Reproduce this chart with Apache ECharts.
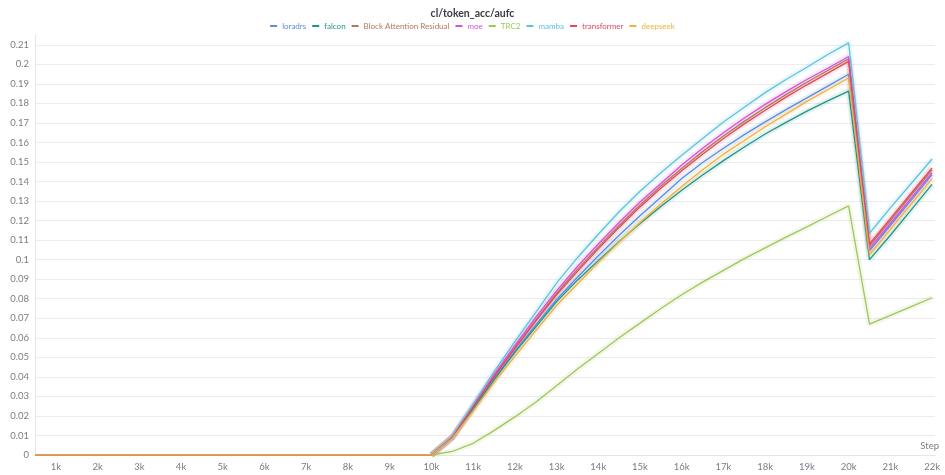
<!DOCTYPE html>
<html>
<head>
<meta charset="utf-8">
<script src="https://cdn.jsdelivr.net/npm/echarts@6/dist/echarts.min.js"></script>
<style>
  html, body { margin: 0; padding: 0; background: #fff; }
  #chart { width: 945px; height: 475px; }
</style>
</head>
<body>
<div id="chart"></div>
<script>
// Training steps (x values)
const steps = [500, 1000, 1500, 2000, 2500, 3000, 3500, 4000, 4500, 5000,
  5500, 6000, 6500, 7000, 7500, 8000, 8500, 9000, 9500, 10000,
  10500, 11000, 11500, 12000, 12500, 13000, 13500, 14000, 14500, 15000,
  15500, 16000, 16500, 17000, 17500, 18000, 18500, 19000, 19500, 20000,
  20500, 21000, 21500, 22000];

// Tick labels along the step axis
const xTickValues = [1000, 2000, 3000, 4000, 5000, 6000, 7000, 8000, 9000, 10000, 11000,
  12000, 13000, 14000, 15000, 16000, 17000, 18000, 19000, 20000, 21000, 22000];

// cl/token_acc/aufc per run
const loradrs = [0, 0, 0, 0, 0, 0, 0, 0, 0, 0, 0, 0, 0, 0, 0, 0, 0, 0, 0, 0,
  0.009, 0.024, 0.039, 0.053, 0.0665, 0.0795, 0.091, 0.102, 0.1125, 0.1225,
  0.132, 0.1415, 0.1497, 0.157, 0.164, 0.1705, 0.1768, 0.1828, 0.1888, 0.1949,
  0.1045, 0.1175, 0.1305, 0.1435];
const falcon = [0, 0, 0, 0, 0, 0, 0, 0, 0, 0, 0, 0, 0, 0, 0, 0, 0, 0, 0, 0,
  0.009, 0.0235, 0.0385, 0.0525, 0.0655, 0.0785, 0.0895, 0.0995, 0.1093, 0.1185,
  0.1272, 0.1355, 0.1433, 0.1507, 0.1577, 0.1643, 0.1703, 0.176, 0.1813, 0.1863,
  0.1, 0.1125, 0.1255, 0.1385];
const blockAttnResidual = [0, 0, 0, 0, 0, 0, 0, 0, 0, 0, 0, 0, 0, 0, 0, 0, 0, 0, 0, 0,
  0.009, 0.0245, 0.0402, 0.055, 0.069, 0.0828, 0.095, 0.1065, 0.1175, 0.128,
  0.1377, 0.1467, 0.1553, 0.1633, 0.1708, 0.1778, 0.1845, 0.1908, 0.1968, 0.2028,
  0.107, 0.12, 0.133, 0.146];
const moe = [0, 0, 0, 0, 0, 0, 0, 0, 0, 0, 0, 0, 0, 0, 0, 0, 0, 0, 0, 0,
  0.009, 0.025, 0.041, 0.056, 0.0705, 0.084, 0.0965, 0.108, 0.119, 0.1295,
  0.139, 0.1485, 0.157, 0.165, 0.1725, 0.1795, 0.186, 0.1922, 0.198, 0.204,
  0.1055, 0.1185, 0.1315, 0.1445];
const trc2 = [0, 0, 0, 0, 0, 0, 0, 0, 0, 0, 0, 0, 0, 0, 0, 0, 0, 0, 0, 0,
  0.0018, 0.006, 0.0125, 0.0195, 0.027, 0.0355, 0.044, 0.052, 0.06, 0.0675,
  0.075, 0.082, 0.0885, 0.0945, 0.1005, 0.106, 0.1115, 0.1168, 0.1222, 0.1275,
  0.067, 0.0715, 0.076, 0.0805];
const mamba = [0, 0, 0, 0, 0, 0, 0, 0, 0, 0, 0, 0, 0, 0, 0, 0, 0, 0, 0, 0,
  0.0095, 0.026, 0.0425, 0.058, 0.073, 0.088, 0.101, 0.113, 0.1245, 0.135,
  0.1445, 0.1535, 0.162, 0.1705, 0.178, 0.1855, 0.1922, 0.1985, 0.205, 0.211,
  0.1135, 0.1265, 0.139, 0.1515];
const transformer = [0, 0, 0, 0, 0, 0, 0, 0, 0, 0, 0, 0, 0, 0, 0, 0, 0, 0, 0, 0,
  0.009, 0.0245, 0.04, 0.0545, 0.0685, 0.082, 0.094, 0.1055, 0.1165, 0.127,
  0.1365, 0.1455, 0.154, 0.162, 0.1695, 0.1765, 0.1832, 0.1895, 0.1955, 0.2015,
  0.108, 0.121, 0.134, 0.147];
const deepseek = [0, 0, 0, 0, 0, 0, 0, 0, 0, 0, 0, 0, 0, 0, 0, 0, 0, 0, 0, 0,
  0.0085, 0.0225, 0.037, 0.0505, 0.0635, 0.0765, 0.0875, 0.0985, 0.109, 0.119,
  0.1285, 0.1375, 0.146, 0.154, 0.161, 0.168, 0.1745, 0.181, 0.187, 0.193,
  0.1025, 0.1155, 0.1285, 0.1415];

const runNames = ['loradrs', 'falcon', 'Block Attention Residual', 'moe', 'TRC2', 'mamba', 'transformer', 'deepseek'];
const runValues = [loradrs, falcon, blockAttnResidual, moe, trc2, mamba, transformer, deepseek];
const runColors = ['#5b8de0', '#229487', '#b07a5e', '#d94fde', '#9ec75a', '#5bc3dc', '#e5485e', '#f2b03c'];

const FONT = '"Source Sans Pro", Lato, "Noto Sans", sans-serif';

const series = [];
// main run lines
runNames.forEach((name, i) => {
  series.push({
    name: name,
    type: 'line',
    symbol: 'none',
    z: 2 + i,
    color: runColors[i],
    itemStyle: { color: runColors[i] },
    lineStyle: { width: 1.3, color: runColors[i] },
    data: steps.map((s, k) => [s, runValues[i][k]])
  });
});
// soft halo under each run where it leaves zero
runNames.forEach((name, i) => {
  series.push({
    name: name,
    type: 'line',
    silent: true,
    symbol: 'none',
    z: 1,
    color: runColors[i],
    itemStyle: { color: runColors[i] },
    lineStyle: { width: 6, color: runColors[i], opacity: 0.12 },
    data: steps.map((s, k) => s >= 10000 ? [s, runValues[i][k]] : [s, null])
  });
});

const chart = echarts.init(document.getElementById('chart'), null, { renderer: 'canvas' });
chart.setOption({
  animation: false,
  backgroundColor: '#ffffff',
  title: {
    text: 'cl/token_acc/aufc',
    left: 'center',
    top: 3,
    textStyle: { fontFamily: FONT, fontSize: 10.5, fontWeight: 'bold', color: '#3a3a44' }
  },
  legend: {
    data: runNames.map((n, i) => ({ name: n, itemStyle: { color: runColors[i] }, textStyle: { color: runColors[i] } })),
    top: 17,
    left: 'center',
    icon: 'rect',
    itemWidth: 7,
    itemHeight: 2,
    itemGap: 6,
    textStyle: { fontFamily: FONT, fontSize: 8 }
  },
  grid: { left: 35, right: 10, top: 35, bottom: 20, containLabel: false },
  xAxis: {
    type: 'value',
    min: 500,
    max: 22070,
    name: 'Step',
    nameLocation: 'end',
    nameGap: 4,
    nameTextStyle: { fontFamily: FONT, fontSize: 9.5, color: '#7b7b86', align: 'right', verticalAlign: 'bottom', padding: [0, 0, 4, 0] },
    axisLine: { show: true, lineStyle: { color: '#e6e6e9', width: 1 } },
    axisTick: { show: false, customValues: xTickValues },
    splitLine: { show: false },
    axisLabel: {
      customValues: xTickValues,
      formatter: v => (v / 1000) + 'k',
      fontFamily: FONT, fontSize: 9.5, color: '#7b7b86', margin: 7
    }
  },
  yAxis: {
    type: 'value',
    min: 0,
    max: 0.215,
    interval: 0.01,
    axisLine: { show: true, lineStyle: { color: '#e6e6e9', width: 1 } },
    axisTick: { show: false },
    splitLine: { show: true, showMaxLine: false, lineStyle: { color: '#ececef', width: 1 } },
    axisLabel: {
      showMaxLabel: false,
      fontFamily: FONT, fontSize: 9.5, color: '#7b7b86', margin: 6,
      formatter: v => String(Math.round(v * 1000) / 1000)
    }
  },
  series: series
});
</script>
</body>
</html>
